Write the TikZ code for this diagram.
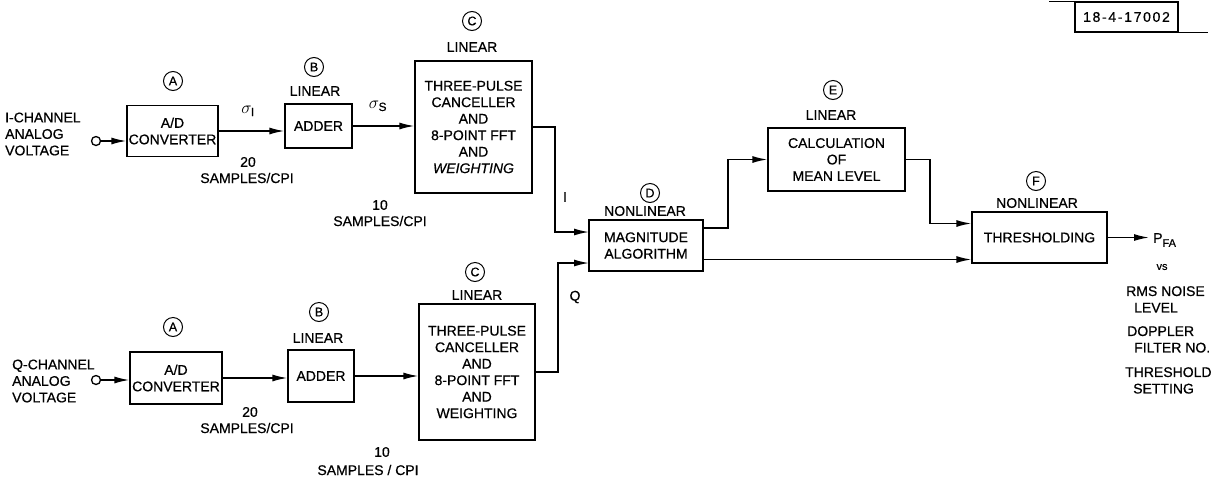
\documentclass[tikz,border=0pt]{standalone}
\usepackage{fontspec}
\setmainfont{Liberation Sans}[FakeBold=0.6]
\usetikzlibrary{arrows.meta}
\begin{document}
\begin{tikzpicture}[x=1pt,y=-1pt,
  txt/.style={inner sep=0pt,align=center,font=\fontsize{14}{16.5}\selectfont},
  box/.style={draw,line width=1.3pt,inner sep=0pt,align=center,font=\fontsize{14}{16.5}\selectfont},
  circ/.style={draw,circle,line width=1pt,minimum size=19pt,inner sep=0pt,font=\fontsize{12.5}{12.5}\selectfont},
  term/.style={draw,circle,line width=1.3pt,minimum size=9pt,inner sep=0pt},
  wire/.style={line width=1.5pt},
  arr/.style={wire,-{Latex[length=15pt,width=7pt]}}
]
\useasboundingbox (0,0) rectangle (1214,480);

% ---------- tag ----------
\node[draw,line width=1.3pt,minimum width=103pt,minimum height=30pt,inner sep=0pt,
      font=\fontsize{14}{14}\selectfont\addfontfeatures{LetterSpace=12}] (tag) at (1126.5,17) {18-4-17002};
\draw[line width=1.3pt] (tag.north west) -- ++(-25,0);
\draw[line width=1.3pt] (tag.south east) -- ++(29,0);

% ---------- I channel ----------
\node[txt,align=left,anchor=west] (txtI) at (5,134) {I-CHANNEL\\ANALOG\\VOLTAGE};
\node[term] (inI) at (96,141) {};
\node[box,minimum width=91pt,minimum height=51pt] (adI) at (172.5,131) {A/D\\CONVERTER};
\node[circ] (cAI) at (173,81) {A};
\node[txt,font=\fontsize{17}{17}\selectfont] (sigI) at (248,111) {$\sigma_{\mathrm{I}}$};
\node[txt] (n20I) at (248,162) {20};
\node[txt] (spI) at (247,178) {SAMPLES/CPI};
\node[box,minimum width=67pt,minimum height=44pt] (addI) at (318.5,126) {ADDER};
\node[circ] (cBI) at (314,67) {B};
\node[txt] (linBI) at (315,91) {LINEAR};
\node[txt,font=\fontsize{17}{17}\selectfont] (sigS) at (378,106) {$\sigma_{\mathrm{S}}$};
\node[txt] (n10I) at (380,205) {10};
\node[txt] (sp10I) at (380,221) {SAMPLES/CPI};
\node[box,minimum width=117pt,minimum height=132pt] (cTop) at (473.5,127)
  {THREE-PULSE\\CANCELLER\\AND\\8-POINT FFT\\AND\\\textit{WEIGHTING}};
\node[circ] (cCI) at (472,21) {C};
\node[txt] (linCI) at (472,47) {LINEAR};
\node[txt] (lblI) at (565,197) {I};

% ---------- Q channel ----------
\node[txt,align=left,anchor=west] (txtQ) at (12,381) {Q-CHANNEL\\ANALOG\\VOLTAGE};
\node[term] (inQ) at (96,380) {};
\node[box,minimum width=92pt,minimum height=52pt] (adQ) at (176,378) {A/D\\CONVERTER};
\node[circ] (cAQ) at (173,327) {A};
\node[txt] (n20Q) at (250,412) {20};
\node[txt] (spQ) at (247,428) {SAMPLES/CPI};
\node[box,minimum width=66pt,minimum height=52pt] (addQ) at (321,376) {ADDER};
\node[circ] (cBQ) at (319,312) {B};
\node[txt] (linBQ) at (318,338) {LINEAR};
\node[txt] (n10Q) at (382,452) {10};
\node[txt] (sp10Q) at (368,470) {SAMPLES / CPI};
\node[box,minimum width=116pt,minimum height=136pt] (cBot) at (477,372)
  {THREE-PULSE\\CANCELLER\\AND\\8-POINT FFT\\AND\\WEIGHTING};
\node[circ] (cCQ) at (475,272) {C};
\node[txt] (linCQ) at (477,295) {LINEAR};
\node[txt] (lblQ) at (575,297) {Q};

% ---------- D, E, F ----------
\node[box,minimum width=114pt,minimum height=51pt] (D) at (646,245.5) {MAGNITUDE\\ALGORITHM};
\node[circ] (cD) at (650,193) {D};
\node[txt] (nlD) at (645,211) {NONLINEAR};
\node[box,minimum width=137pt,minimum height=63pt] (E) at (836.5,159.5) {CALCULATION\\OF\\MEAN LEVEL};
\node[circ] (cE) at (833,90) {E};
\node[txt] (linE) at (831,115) {LINEAR};
\node[box,minimum width=135pt,minimum height=51pt] (F) at (1039.5,237.5) {THRESHOLDING};
\node[circ] (cF) at (1036,181) {F};
\node[txt] (nlF) at (1037,203) {NONLINEAR};

\node[txt,anchor=west] (pfa) at (1153,240) {P\raisebox{-4pt}{\fontsize{11}{11}\selectfont FA}};
\node[txt,font=\fontsize{11}{11}\selectfont] (vs) at (1162,267) {vs};
\node[txt,align=left,anchor=north west] (n1) at (1126,286) {RMS NOISE\\\hspace*{8pt}LEVEL};
\node[txt,align=left,anchor=north west] (n2) at (1127,326) {DOPPLER\\\hspace*{7pt}FILTER NO.};
\node[txt,align=left,anchor=north west] (n3) at (1125,367) {THRESHOLD\\\hspace*{8pt}SETTING};

% ---------- coordinates ----------
\coordinate (kI) at (555,180);
\coordinate (dIin) at (589,232);
\coordinate (kQ) at (558,320);
\coordinate (dQin) at (589,263);
\coordinate (kE) at (728,190);
\coordinate (kF) at (930,190);
\coordinate (fout) at (1149,237.5);

% ---------- connectors ----------
\draw[arr] (inI) -- (adI.west |- inI);
\draw[arr] (adI.east) -- (adI.east -| addI.west);
\draw[arr] (addI.east) -- (addI.east -| cTop.west);
\draw[arr] (cTop.east) -| (kI) |- (dIin);

\draw[arr] (inQ) -- (adQ.west |- inQ);
\draw[arr] (adQ.east) -- (adQ.east -| addQ.west);
\draw[arr] (addQ.east) -- (addQ.east -| cBot.west);
\draw[arr] (cBot.east) -| (kQ) |- (dQin);

\draw[arr] ([yshift=17.5pt]D.east) -| (kE) |- (E.west);
\draw[arr] ([yshift=-14pt]D.east) -- ([yshift=-14pt]D.east -| F.west);
\draw[arr] (E.east) -| (kF) |- ([yshift=14pt]F.west);
\draw[arr] (F.east) -- (fout);
\end{tikzpicture}
\end{document}
